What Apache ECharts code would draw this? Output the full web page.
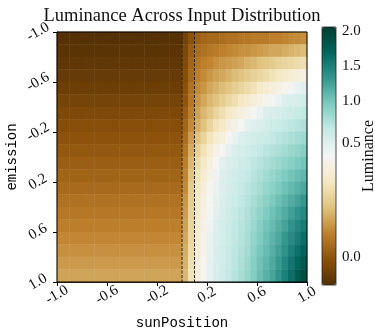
<!DOCTYPE html>
<html>
<head>
<meta charset="utf-8">
<script src="https://cdn.jsdelivr.net/npm/echarts@6/dist/echarts.min.js"></script>
<style>
  html, body { margin: 0; padding: 0; background: #fff; }
  #chart { width: 375px; height: 329px; }
</style>
</head>
<body>
<div id="chart"></div>
<script>
// cell centres of the grid
var sunPosition = [-0.975, -0.925, -0.875, -0.825, -0.775, -0.725, -0.675, -0.625, -0.575, -0.525,
  -0.475, -0.425, -0.375, -0.325, -0.275, -0.225, -0.175, -0.125, -0.075, -0.025,
  0.025, 0.075, 0.125, 0.175, 0.225, 0.275, 0.325, 0.375, 0.425, 0.475,
  0.525, 0.575, 0.625, 0.675, 0.725, 0.775, 0.825, 0.875, 0.925, 0.975];
var emission = [-0.95, -0.85, -0.75, -0.65, -0.55, -0.45, -0.35, -0.25, -0.15, -0.05,
  0.05, 0.15, 0.25, 0.35, 0.45, 0.55, 0.65, 0.75, 0.85, 0.95];

// sunPosition < 0: luminance only depends on emission (one value per row)
var leftLuminance = [-0.117, -0.106, -0.095, -0.081, -0.069, -0.053, -0.036, -0.018, -0.005, 0.010,
  0.024, 0.038, 0.053, 0.069, 0.084, 0.098, 0.114, 0.131, 0.148, 0.165];

// sunPosition > 0: one row per emission value, 20 columns
var rightLuminance = [
  [-0.06, -0.01, 0.03, 0.04, 0.05, 0.05, 0.06, 0.07, 0.07, 0.08, 0.08, 0.09, 0.09, 0.09, 0.10, 0.10, 0.11, 0.12, 0.12, 0.13],
  [-0.04, 0.02, 0.06, 0.07, 0.08, 0.09, 0.10, 0.11, 0.12, 0.13, 0.13, 0.14, 0.15, 0.16, 0.17, 0.17, 0.18, 0.19, 0.20, 0.21],
  [-0.03, 0.04, 0.08, 0.10, 0.11, 0.13, 0.14, 0.15, 0.16, 0.17, 0.19, 0.20, 0.22, 0.23, 0.24, 0.26, 0.27, 0.28, 0.29, 0.30],
  [-0.02, 0.05, 0.10, 0.12, 0.14, 0.16, 0.17, 0.19, 0.21, 0.22, 0.24, 0.26, 0.28, 0.29, 0.31, 0.33, 0.35, 0.37, 0.38, 0.40],
  [-0.01, 0.07, 0.12, 0.14, 0.17, 0.19, 0.21, 0.23, 0.25, 0.27, 0.29, 0.31, 0.34, 0.36, 0.38, 0.40, 0.42, 0.45, 0.47, 0.49],
  [0.00, 0.08, 0.14, 0.17, 0.20, 0.22, 0.25, 0.28, 0.30, 0.33, 0.35, 0.38, 0.40, 0.42, 0.45, 0.47, 0.50, 0.53, 0.55, 0.58],
  [0.02, 0.10, 0.16, 0.20, 0.23, 0.27, 0.30, 0.33, 0.36, 0.39, 0.41, 0.44, 0.47, 0.50, 0.53, 0.55, 0.58, 0.61, 0.64, 0.67],
  [0.04, 0.12, 0.18, 0.22, 0.27, 0.31, 0.34, 0.38, 0.41, 0.44, 0.48, 0.51, 0.54, 0.57, 0.60, 0.63, 0.66, 0.69, 0.72, 0.75],
  [0.06, 0.15, 0.22, 0.27, 0.32, 0.36, 0.39, 0.43, 0.47, 0.50, 0.54, 0.57, 0.60, 0.63, 0.66, 0.70, 0.73, 0.77, 0.80, 0.83],
  [0.08, 0.18, 0.26, 0.31, 0.36, 0.41, 0.44, 0.48, 0.52, 0.55, 0.59, 0.62, 0.66, 0.70, 0.73, 0.77, 0.81, 0.85, 0.88, 0.92],
  [0.10, 0.20, 0.29, 0.34, 0.39, 0.44, 0.48, 0.52, 0.55, 0.59, 0.63, 0.67, 0.72, 0.76, 0.80, 0.84, 0.88, 0.93, 0.97, 1.01],
  [0.11, 0.22, 0.31, 0.36, 0.41, 0.46, 0.50, 0.54, 0.58, 0.62, 0.66, 0.71, 0.76, 0.81, 0.86, 0.91, 0.96, 1.01, 1.06, 1.11],
  [0.12, 0.24, 0.33, 0.38, 0.43, 0.47, 0.51, 0.56, 0.60, 0.64, 0.69, 0.74, 0.80, 0.86, 0.91, 0.97, 1.03, 1.09, 1.15, 1.21],
  [0.14, 0.25, 0.34, 0.39, 0.44, 0.48, 0.53, 0.58, 0.62, 0.67, 0.72, 0.78, 0.85, 0.91, 0.97, 1.04, 1.11, 1.18, 1.25, 1.32],
  [0.15, 0.26, 0.35, 0.40, 0.45, 0.49, 0.54, 0.59, 0.64, 0.69, 0.75, 0.82, 0.89, 0.96, 1.03, 1.10, 1.18, 1.27, 1.35, 1.43],
  [0.16, 0.27, 0.36, 0.41, 0.46, 0.51, 0.56, 0.61, 0.66, 0.71, 0.77, 0.84, 0.92, 1.00, 1.07, 1.16, 1.25, 1.35, 1.44, 1.53],
  [0.17, 0.28, 0.37, 0.42, 0.47, 0.52, 0.57, 0.62, 0.67, 0.72, 0.79, 0.87, 0.96, 1.04, 1.12, 1.21, 1.32, 1.42, 1.52, 1.63],
  [0.18, 0.29, 0.37, 0.42, 0.47, 0.53, 0.58, 0.64, 0.69, 0.74, 0.81, 0.90, 0.99, 1.07, 1.16, 1.26, 1.37, 1.49, 1.61, 1.72],
  [0.19, 0.30, 0.38, 0.43, 0.48, 0.53, 0.59, 0.65, 0.70, 0.76, 0.84, 0.93, 1.02, 1.11, 1.20, 1.31, 1.44, 1.57, 1.69, 1.82],
  [0.20, 0.31, 0.38, 0.43, 0.48, 0.54, 0.60, 0.66, 0.72, 0.78, 0.86, 0.95, 1.05, 1.15, 1.24, 1.36, 1.49, 1.63, 1.77, 1.90]
];

var dividers = [0, 0.1];
var colorTicks = [0, 0.5, 1, 1.5, 2];

// colour bar is not linear: value -> position along the bar
var normValues = [-0.12, 0, 0.5, 1, 1.5, 2, 2.05];
var normStops = [0, 0.107, 0.552, 0.714, 0.847, 0.986, 1];
var BrBG = ['#543005', '#8c510a', '#bf812d', '#dfc27d', '#f6e8c3', '#f5f5f5',
  '#c7eae5', '#80cdc1', '#35978f', '#01665e', '#003c30'];

function norm(v) {
  for (var k = 1; k < normValues.length; k++) {
    if (v <= normValues[k]) {
      var f = (v - normValues[k - 1]) / (normValues[k] - normValues[k - 1]);
      return Math.max(0, normStops[k - 1] + f * (normStops[k] - normStops[k - 1]));
    }
  }
  return 1;
}

var cells = [];
for (var i = 0; i < emission.length; i++) {
  for (var j = 0; j < sunPosition.length; j++) {
    var v = j < 20 ? leftLuminance[i] : rightLuminance[i][j - 20];
    cells.push([j, i, v, norm(v)]);
  }
}

var serif = 'Liberation Serif';
var mono = 'Liberation Mono';
var tickPos = colorTicks.map(norm);

function oneDecimal(v) { return v.toFixed(1); }

var chart = echarts.init(document.getElementById('chart'), null, { renderer: 'canvas' });
chart.setOption({
  animation: false,
  backgroundColor: '#fff',
  textStyle: { fontFamily: serif, color: '#000' },
  title: {
    text: 'Luminance Across Input Distribution',
    left: 177, top: 2, textAlign: 'center',
    textStyle: { fontFamily: serif, fontSize: 18.5, fontWeight: 'normal', color: '#111' }
  },
  grid: [
    { left: 57, top: 32, width: 250, height: 250, show: true, z: 10, outerBoundsMode: 'none',
      backgroundColor: 'transparent', borderColor: '#000', borderWidth: 1 },
    { left: 322, top: 27, width: 14, height: 258, show: true, z: 10, outerBoundsMode: 'none',
      backgroundColor: 'transparent', borderColor: '#222', borderWidth: 0.8 }
  ],
  visualMap: {
    type: 'continuous', seriesIndex: 0, dimension: 3, min: 0, max: 1,
    inRange: { color: BrBG }, calculable: false, hoverLink: false,
    itemWidth: 14, itemHeight: 258, left: 322, top: 27, padding: 0,
    orient: 'vertical'
  },
  xAxis: [
    { type: 'category', gridIndex: 0, data: sunPosition, show: false, position: 'top' },
    { type: 'value', gridIndex: 1, show: false, min: 0, max: 1 },
    {
      type: 'value', gridIndex: 0, min: -1, max: 1, interval: 0.4, position: 'bottom',
      name: 'sunPosition', nameLocation: 'middle', nameGap: 34, nameMoveOverlap: false,
      nameTextStyle: { fontFamily: mono, fontSize: 14, color: '#000' },
      axisLine: { show: true, lineStyle: { color: '#000', width: 1 } },
      axisTick: { show: true, length: 4, lineStyle: { color: '#000' } },
      axisLabel: { rotate: 30, margin: 13, align: 'center', verticalAlign: 'middle',
        fontSize: 15, color: '#111', fontFamily: serif, formatter: oneDecimal },
      splitLine: { show: false }
    }
  ],
  yAxis: [
    { type: 'category', gridIndex: 0, data: emission, inverse: true, show: false, position: 'right' },
    {
      type: 'value', gridIndex: 1, min: 0, max: 1, position: 'right',
      name: 'Luminance', nameLocation: 'middle', nameGap: 25, nameRotate: 90, nameMoveOverlap: false,
      nameTextStyle: { fontFamily: serif, fontSize: 16, color: '#111' },
      axisLine: { show: false },
      axisTick: { show: true, length: 3.5, customValues: tickPos, lineStyle: { color: '#000' } },
      axisLabel: { customValues: tickPos, margin: 6, fontSize: 15, color: '#111', fontFamily: serif,
        formatter: function (t) {
          var best = 0;
          for (var k = 1; k < tickPos.length; k++) {
            if (Math.abs(tickPos[k] - t) < Math.abs(tickPos[best] - t)) best = k;
          }
          return colorTicks[best].toFixed(1);
        } },
      splitLine: { show: false }
    },
    {
      type: 'value', gridIndex: 0, min: -1, max: 1, interval: 0.4, inverse: true, position: 'left',
      name: 'emission', nameLocation: 'middle', nameGap: 38, nameRotate: 90, nameMoveOverlap: false,
      nameTextStyle: { fontFamily: mono, fontSize: 14, color: '#000' },
      axisLine: { show: true, lineStyle: { color: '#000', width: 1 } },
      axisTick: { show: true, length: 4, lineStyle: { color: '#000' } },
      axisLabel: { rotate: 30, margin: 19, align: 'center', verticalAlign: 'middle',
        fontSize: 15, color: '#111', fontFamily: serif, formatter: oneDecimal },
      splitLine: { show: false }
    }
  ],
  series: [
    {
      type: 'heatmap', xAxisIndex: 0, yAxisIndex: 0, data: cells,
      itemStyle: { borderWidth: 0 }, emphasis: { disabled: true }
    }
  ].concat(dividers.map(function (d) {
    return {
      type: 'line', xAxisIndex: 2, yAxisIndex: 2, z: 5,
      data: [[d, -1], [d, 1]], symbol: 'none', silent: true,
      lineStyle: { color: '#222', width: 1, type: [3, 1.5] }
    };
  }))
});
</script>
</body>
</html>
